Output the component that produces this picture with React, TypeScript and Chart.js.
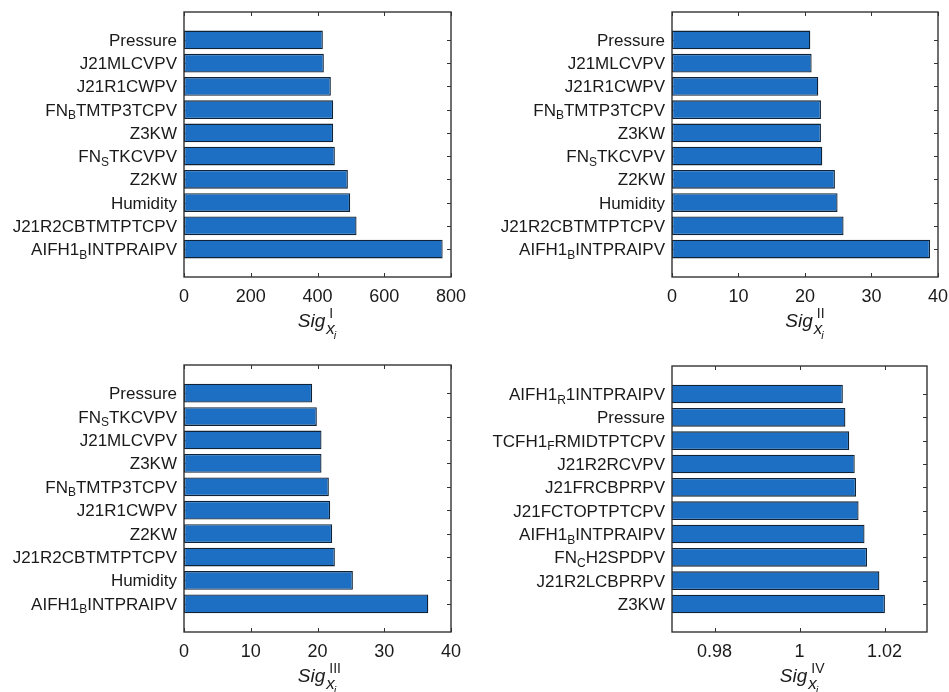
import React, { useEffect, useRef } from "react";
import { Chart, registerables } from "chart.js";
Chart.register(...registerables);

// ---------- data ----------
const LABELS_I = ["Pressure", "J21MLCVPV", "J21R1CWPV", "FN_{B}TMTP3TCPV", "Z3KW", "FN_{S}TKCVPV", "Z2KW", "Humidity", "J21R2CBTMTPTCPV", "AIFH1_{B}INTPRAIPV"];
const VALUES_I = [416, 419, 440, 447, 447, 452, 491, 498, 517, 775];
const TICKS_I = [0, 200, 400, 600, 800];

const LABELS_II = ["Pressure", "J21MLCVPV", "J21R1CWPV", "FN_{B}TMTP3TCPV", "Z3KW", "FN_{S}TKCVPV", "Z2KW", "Humidity", "J21R2CBTMTPTCPV", "AIFH1_{B}INTPRAIPV"];
const VALUES_II = [20.8, 21.0, 22.0, 22.4, 22.4, 22.6, 24.5, 24.9, 25.8, 38.8];
const TICKS_II = [0, 10, 20, 30, 40];

const LABELS_III = ["Pressure", "FN_{S}TKCVPV", "J21MLCVPV", "Z3KW", "FN_{B}TMTP3TCPV", "J21R1CWPV", "Z2KW", "J21R2CBTMTPTCPV", "Humidity", "AIFH1_{B}INTPRAIPV"];
const VALUES_III = [19.2, 19.9, 20.6, 20.6, 21.7, 21.9, 22.2, 22.6, 25.3, 36.6];
const TICKS_III = [0, 10, 20, 30, 40];

const LABELS_IV = ["AIFH1_{R}1INTPRAIPV", "Pressure", "TCFH1_{F}RMIDTPTCPV", "J21R2RCVPV", "J21FRCBPRPV", "J21FCTOPTPTCPV", "AIFH1_{B}INTPRAIPV", "FN_{C}H2SPDPV", "J21R2LCBPRPV", "Z3KW"];
const VALUES_IV = [1.0102, 1.0108, 1.0117, 1.0130, 1.0133, 1.0139, 1.0153, 1.0159, 1.0188, 1.0201];
const TICKS_IV = [0.98, 1, 1.02];

const RANGE_I = [0, 800];
const RANGE_II = [0, 40];
const RANGE_III = [0, 40];
const RANGE_IV = [0.97, 1.03];

const TITLE_NUMERALS = ["I", "II", "III", "IV"];

// ---------- style ----------
const FONT = 'Arial, "Liberation Sans", Helvetica, sans-serif';
const TEXT = "#1a1a1a";
const BAR_FILL = "#1c6fc3";
const BAR_EDGE = "#0f2236";
const AXIS = "#333333";

type Seg = { t: string; sub: boolean };
function parseSegs(s: string): Seg[] {
  const out: Seg[] = [];
  const re = /_\{([^}]*)\}/g;
  let last = 0;
  let m: RegExpExecArray | null;
  while ((m = re.exec(s))) {
    if (m.index > last) out.push({ t: s.slice(last, m.index), sub: false });
    out.push({ t: m[1], sub: true });
    last = re.lastIndex;
  }
  if (last < s.length) out.push({ t: s.slice(last), sub: false });
  return out;
}

type PanelCfg = {
  left: number; top: number; w: number; h: number;
  pl: number; pt: number; pr: number; pb: number;
  labels: string[]; values: number[]; ticks: number[]; range: number[]; numeral: string;
};

const PANELS: PanelCfg[] = [
  { left: 0, top: 0, w: 475, h: 346, pl: 184, pt: 12, pr: 451, pb: 277, labels: LABELS_I, values: VALUES_I, ticks: TICKS_I, range: RANGE_I, numeral: TITLE_NUMERALS[0] },
  { left: 475, top: 0, w: 474, h: 346, pl: 197, pt: 12, pr: 464, pb: 277, labels: LABELS_II, values: VALUES_II, ticks: TICKS_II, range: RANGE_II, numeral: TITLE_NUMERALS[1] },
  { left: 0, top: 346, w: 475, h: 346, pl: 184, pt: 19, pr: 451, pb: 286, labels: LABELS_III, values: VALUES_III, ticks: TICKS_III, range: RANGE_III, numeral: TITLE_NUMERALS[2] },
  { left: 475, top: 346, w: 474, h: 346, pl: 197, pt: 20, pr: 452, pb: 286, labels: LABELS_IV, values: VALUES_IV, ticks: TICKS_IV, range: RANGE_IV, numeral: TITLE_NUMERALS[3] },
];

function Panel({ cfg }: { cfg: PanelCfg }) {
  const ref = useRef<HTMLCanvasElement | null>(null);
  useEffect(() => {
    if (!ref.current) return;
    const n = cfg.labels.length;
    const framePlugin = {
      id: "frame",
      beforeDatasetsDraw(chart: any) {
        const { ctx, chartArea: a, scales } = chart;
        ctx.save();
        ctx.strokeStyle = AXIS;
        ctx.lineWidth = 1;
        const tl = 4;
        cfg.ticks.forEach((v) => {
          const x = Math.round(scales.x.getPixelForValue(v)) + 0.5;
          ctx.beginPath();
          ctx.moveTo(x, a.bottom); ctx.lineTo(x, a.bottom - tl);
          ctx.moveTo(x, a.top); ctx.lineTo(x, a.top + tl);
          ctx.stroke();
        });
        for (let i = 0; i < n; i++) {
          const y = Math.round(scales.y.getPixelForValue(i)) + 0.5;
          ctx.beginPath();
          ctx.moveTo(a.right, y); ctx.lineTo(a.right - tl, y);
          ctx.moveTo(a.left, y); ctx.lineTo(a.left + tl, y);
          ctx.stroke();
        }
        ctx.restore();
      },
      afterDatasetsDraw(chart: any) {
        const { ctx, chartArea: a } = chart;
        ctx.save();
        ctx.strokeStyle = AXIS;
        ctx.lineWidth = 1.4;
        ctx.strokeRect(a.left, a.top, a.right - a.left, a.bottom - a.top);
        ctx.restore();
      },
      afterDraw(chart: any) {
        const { ctx, chartArea: a, scales } = chart;
        ctx.save();
        ctx.fillStyle = TEXT;
        ctx.textBaseline = "alphabetic";
        ctx.textAlign = "left";
        const mainFont = `17px ${FONT}`;
        const subFont = `12px ${FONT}`;
        cfg.labels.forEach((lab, i) => {
          const segs = parseSegs(lab);
          let total = 0;
          segs.forEach((s) => {
            ctx.font = s.sub ? subFont : mainFont;
            total += ctx.measureText(s.t).width;
          });
          const yc = scales.y.getPixelForValue(i);
          const base = yc + 6;
          let x = a.left - 7 - total;
          segs.forEach((s) => {
            ctx.font = s.sub ? subFont : mainFont;
            ctx.fillText(s.t, x, s.sub ? base + 3.5 : base);
            x += ctx.measureText(s.t).width;
          });
        });
        // axis title: Sig_{x_i}^{N}
        const fSig = `italic 19px ${FONT}`;
        const fX = `italic 17px ${FONT}`;
        const fI = `italic 11px ${FONT}`;
        const fN = `14px ${FONT}`;
        ctx.font = fSig; const wSig = ctx.measureText("Sig").width;
        ctx.font = fX; const wX = ctx.measureText("x").width;
        ctx.font = fI; const wI = ctx.measureText("i").width;
        const totalW = wSig + 1 + wX + wI;
        const cx = (a.left + a.right) / 2;
        const x0 = cx - totalW / 2;
        ctx.font = fSig; ctx.fillText("Sig", x0, a.bottom + 50);
        const xs = x0 + wSig + 1;
        ctx.font = fX; ctx.fillText("x", xs, a.bottom + 57);
        ctx.font = fI; ctx.fillText("i", xs + wX - 1, a.bottom + 62);
        ctx.font = fN; ctx.fillText(cfg.numeral, xs + 3, a.bottom + 41);
        ctx.restore();
      },
    };

    const chart = new Chart(ref.current, {
      type: "bar",
      data: {
        datasets: [
          {
            data: cfg.values.map((v, i) => ({ x: v, y: i })),
            backgroundColor: BAR_FILL,
            borderColor: BAR_EDGE,
            borderWidth: 1.3,
            borderSkipped: false,
            barPercentage: 0.8,
            categoryPercentage: 1,
          } as any,
        ],
      },
      options: {
        indexAxis: "y",
        responsive: false,
        animation: false,
        devicePixelRatio: 1,
        layout: { padding: { left: 0, top: cfg.pt, right: cfg.w - cfg.pr, bottom: 0 } },
        plugins: { legend: { display: false }, tooltip: { enabled: false } },
        scales: {
          x: {
            type: "linear",
            min: cfg.range[0],
            max: cfg.range[1],
            offset: false,
            grid: { display: false },
            border: { display: false },
            afterBuildTicks: (s: any) => { s.ticks = cfg.ticks.map((v) => ({ value: v })); },
            afterFit: (s: any) => { s.height = cfg.h - cfg.pb; },
            ticks: {
              color: TEXT,
              font: { family: FONT, size: 18 },
              padding: 1,
              maxRotation: 0,
              autoSkip: false,
              callback: (v: any) => String(v),
            },
          },
          y: {
            type: "linear",
            reverse: true,
            offset: false,
            min: -1.2,
            max: n - 1 + 1.2,
            grid: { display: false },
            border: { display: false },
            ticks: { display: false },
            afterFit: (s: any) => { s.width = cfg.pl; },
          },
        },
      } as any,
      plugins: [framePlugin],
    });
    return () => chart.destroy();
  }, [cfg]);
  return (
    <canvas
      ref={ref}
      width={cfg.w}
      height={cfg.h}
      style={{ position: "absolute", left: cfg.left, top: cfg.top, width: cfg.w, height: cfg.h }}
    />
  );
}

export default function App() {
  return (
    <div style={{ position: "fixed", left: 0, top: 0, width: 949, height: 692, background: "#fff", overflow: "hidden" }}>
      {PANELS.map((p, i) => (
        <Panel key={i} cfg={p} />
      ))}
    </div>
  );
}
